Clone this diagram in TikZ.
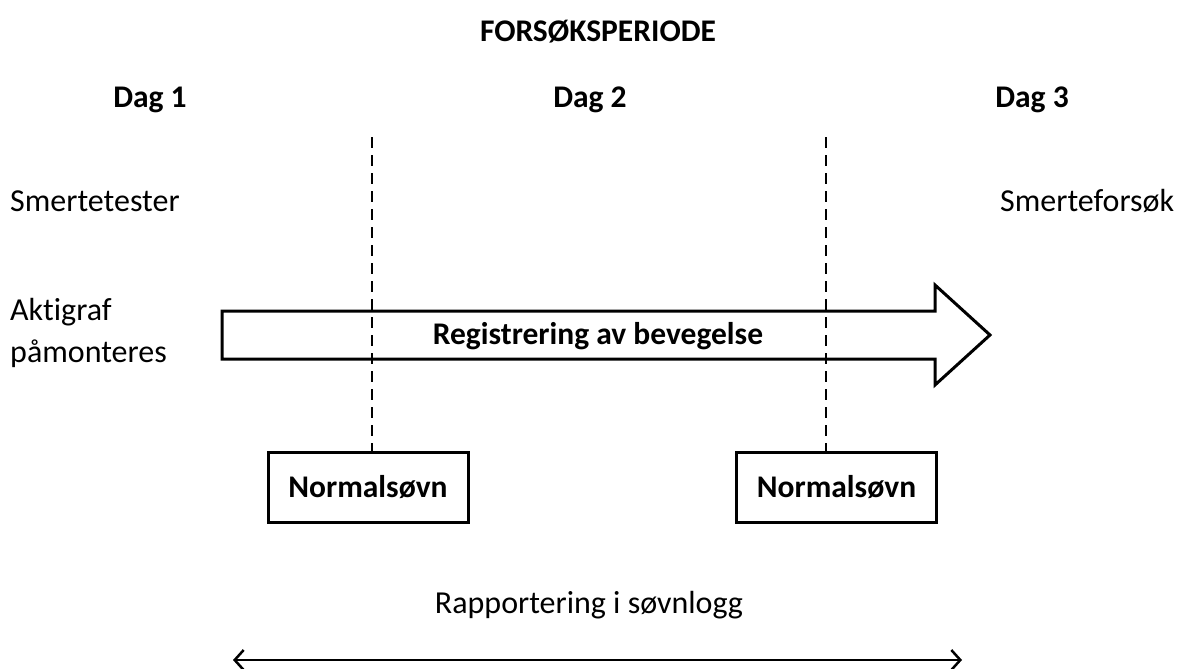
\documentclass[tikz,border=0pt]{standalone}
\usepackage{fontspec}
\setmainfont[Ligatures={NoCommon}]{Carlito}
\usetikzlibrary{arrows.meta}
\tikzset{
  txt/.style={inner sep=0pt, font=\fontsize{32}{42}\selectfont},
  btxt/.style={inner sep=0pt, font=\fontsize{31.5}{38}\selectfont\bfseries},
  sleepbox/.style={draw, line width=3pt, minimum width=200pt, minimum height=70pt, inner sep=0pt, font=\fontsize{31.5}{38}\selectfont\bfseries},
  bigarrow/.style={draw, line width=3pt, line join=miter},
  dashline/.style={line width=2pt, dash pattern=on 11pt off 7pt},
  report/.style={line width=2.5pt, {Straight Barb[length=9pt,width=20pt,line width=2.5pt]}-{Straight Barb[length=9pt,width=20pt,line width=2.5pt]}}
}
\begin{document}
\begin{tikzpicture}[x=1pt,y=-1pt]
\useasboundingbox (0,0) rectangle (1178,669);
\node[btxt] (title) at (598,32) {FORSØKSPERIODE};
\node[btxt] (d1) at (150,100) {Dag 1};
\node[btxt] (d2) at (590,100) {Dag 2};
\node[btxt] (d3) at (1032,100) {Dag 3};
\node[txt, anchor=west] (st) at (10,201) {Smertetester};
\node[txt, anchor=west] (sf) at (1000,201) {Smerteforsøk};
\node[txt, anchor=west, align=left] (ak) at (10,333) {Aktigraf\\påmonteres};
\coordinate (t1) at (372,137);
\coordinate (t2) at (826,137);
\node[sleepbox] (n1) at (368,487) {Normalsøvn};
\node[sleepbox] (n2) at (836.5,487) {Normalsøvn};
\draw[dashline] (t1) -- (n1.north -| t1);
\draw[dashline] (t2) -- (n2.north -| t2);
\draw[bigarrow] (222,311) -- (935,311) -- (935,285) -- (990,335) -- (935,385) -- (935,359) -- (222,359) -- cycle;
\node[btxt] (reg) at (598,336) {Registrering av bevegelse};
\node[txt] (rap) at (589,605) {Rapportering i søvnlogg};
\coordinate (r1) at (233,660);
\coordinate (r2) at (962,660);
\draw[report] (r1) -- (r2);
\end{tikzpicture}
\end{document}
